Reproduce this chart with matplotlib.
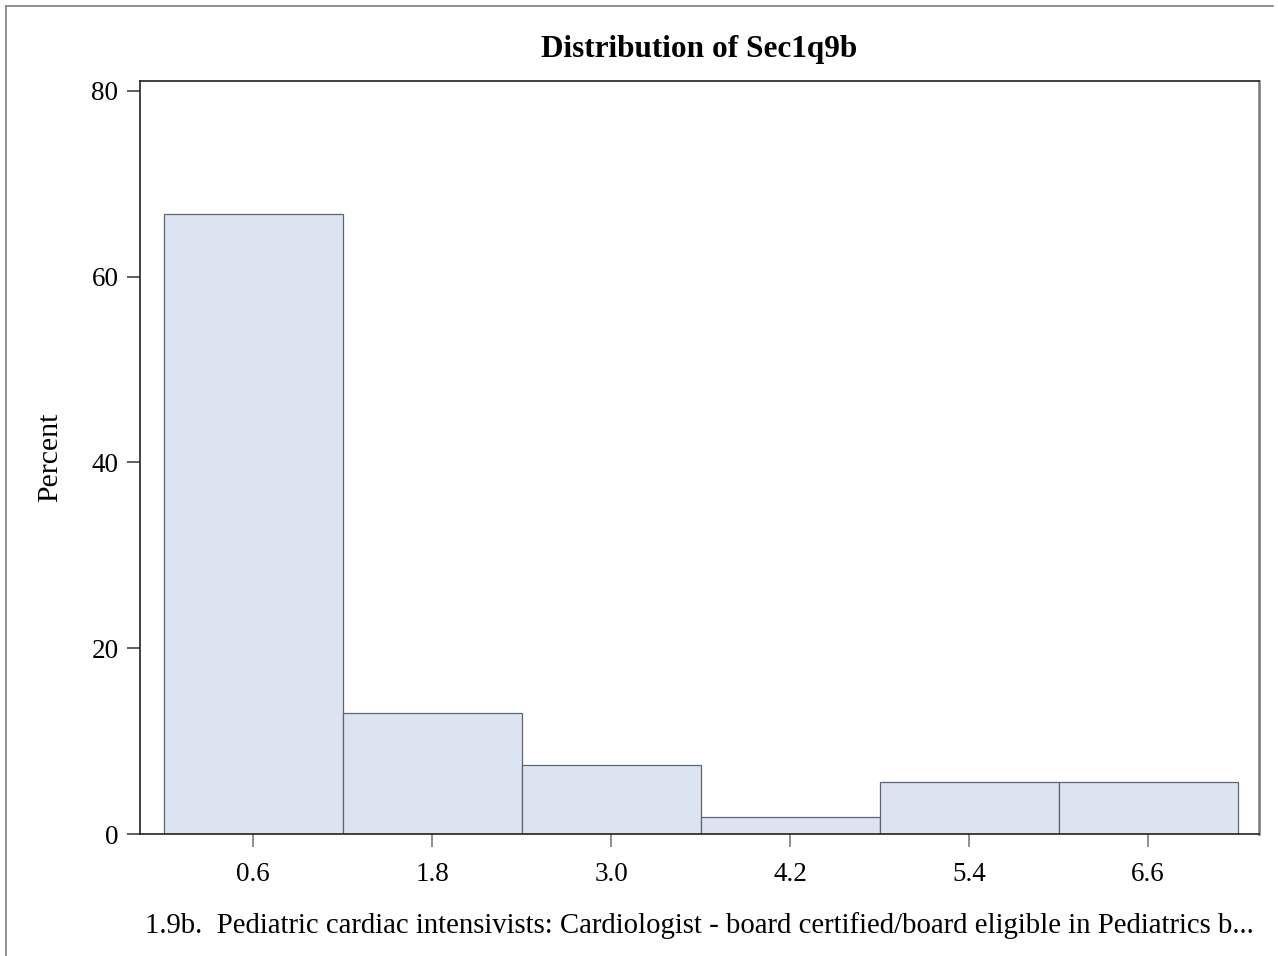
import matplotlib.pyplot as plt
from matplotlib.lines import Line2D

# Histogram bins (midpoints) and percent per bin
midpoints = [0.6, 1.8, 3.0, 4.2, 5.4, 6.6]
percent = [66.7, 13.0, 7.4, 1.85, 5.55, 5.55]
bin_width = 1.2
xtick_labels = ['0.6', '1.8', '3.0', '4.2', '5.4', '6.6']
yticks = [0, 20, 40, 60, 80]

plt.rcParams['font.family'] = ['Liberation Serif', 'DejaVu Serif']

fig = plt.figure(figsize=(12.78, 9.56), dpi=100)
ax = fig.add_axes([140 / 1278, 1 - 834 / 956, (1259 - 140) / 1278, (834 - 81) / 956])

ax.bar(midpoints, percent, width=bin_width, color='#dbe4f0',
       edgecolor='#5d6570', linewidth=0.9, zorder=2)

ax.set_xlim(-0.158, 7.343)
ax.set_ylim(0, 81.05)
ax.set_xticks(midpoints)
ax.set_xticklabels(xtick_labels)
ax.set_yticks(yticks)

ax.tick_params(axis='both', labelsize=19.5, direction='out', length=9.5, width=1.1)
ax.tick_params(axis='x', colors='#707070', labelcolor='black', pad=11)
ax.tick_params(axis='y', colors='#333333', labelcolor='black', pad=6)

for side in ['left', 'top', 'bottom']:
    ax.spines[side].set_color('#222222')
    ax.spines[side].set_linewidth(1.2)
ax.spines['right'].set_color('#777777')
ax.spines['right'].set_linewidth(1.8)

ax.set_ylabel('Percent', fontsize=21.5, labelpad=20)
ax.set_xlabel('1.9b.  Pediatric cardiac intensivists: Cardiologist - board certified/board eligible in Pediatrics b...',
              fontsize=20.7, labelpad=18)
ax.set_title('Distribution of Sec1q9b', fontsize=22.5, fontweight='bold', pad=17)

# outer gray border (top and left edges)
fig.add_artist(Line2D([6 / 1278, 1273 / 1278], [1 - 6 / 956, 1 - 6 / 956],
                      transform=fig.transFigure, color='#888888', linewidth=1.3))
fig.add_artist(Line2D([6 / 1278, 6 / 1278], [1 - 6 / 956, 0],
                      transform=fig.transFigure, color='#888888', linewidth=1.3))

fig.savefig('out.png', dpi=100)
